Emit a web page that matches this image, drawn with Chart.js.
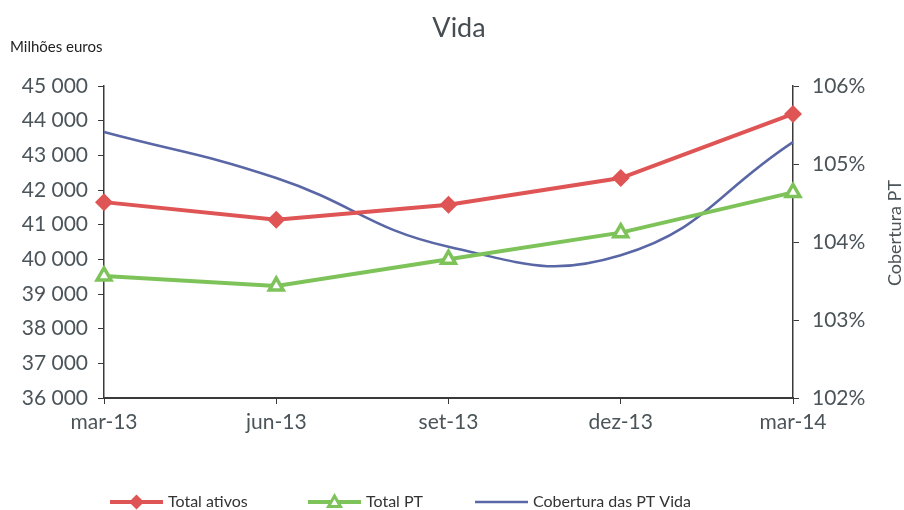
<!DOCTYPE html>
<html>
<head>
<meta charset="utf-8">
<script src="https://cdn.jsdelivr.net/npm/chart.js@4/dist/chart.umd.min.js"></script>
<style>
  html, body { margin: 0; padding: 0; background: #fff; }
  #wrap { width: 904px; height: 510px; }
</style>
</head>
<body>
<div id="wrap"><canvas id="vidaChart" width="904" height="510"></canvas></div>
<script>
const categories = ['mar-13', 'jun-13', 'set-13', 'dez-13', 'mar-14'];
const totalAtivos = [41650, 41140, 41575, 42345, 44195];
const totalPT = [39520, 39230, 40000, 40770, 41930];
const coberturaPT = [105.41, 104.82, 103.94, 103.83, 105.28];

const FONT = 'Lato, "Noto Sans", sans-serif';
const TICK_COLOR = '#4b5459';
const AXIS_COLOR = '#3a3a3a';
const RED = '#df5454';
const GREEN = '#7dc35a';
const BLUE = '#5a67a6';

function fmtThousands(v) {
    return String(v).replace(/\B(?=(\d{3})+(?!\d))/g, ' ');
}

// texts outside the chart area and the bottom legend
const extraText = {
    id: 'extraText',
    afterDraw(chart) {
        const ctx = chart.ctx;
        ctx.save();
        ctx.fillStyle = '#222';
        ctx.font = '15px ' + FONT;
        ctx.textBaseline = 'middle';
        ctx.textAlign = 'left';
        ctx.fillText('Milhões euros', 10, 47);

        ctx.fillStyle = TICK_COLOR;
        ctx.font = '18px ' + FONT;
        ctx.translate(895, 233);
        ctx.rotate(-Math.PI / 2);
        ctx.textAlign = 'center';
        ctx.fillText('Cobertura PT', 0, 0);
        ctx.restore();

        // legend
        const items = [
            { label: 'Total ativos', color: RED, x0: 110, x1: 163, w: 4, marker: 'diamond' },
            { label: 'Total PT', color: GREEN, x0: 308, x1: 361, w: 4, marker: 'triangle' },
            { label: 'Cobertura das PT Vida', color: BLUE, x0: 475, x1: 528, w: 2.5, marker: null }
        ];
        const y = 502;
        ctx.save();
        items.forEach(it => {
            ctx.strokeStyle = it.color;
            ctx.lineWidth = it.w;
            ctx.beginPath();
            ctx.moveTo(it.x0, y);
            ctx.lineTo(it.x1, y);
            ctx.stroke();
            const cx = (it.x0 + it.x1) / 2;
            if (it.marker === 'diamond') {
                ctx.fillStyle = it.color;
                ctx.beginPath();
                ctx.moveTo(cx, y - 7.5);
                ctx.lineTo(cx + 7.5, y);
                ctx.lineTo(cx, y + 7.5);
                ctx.lineTo(cx - 7.5, y);
                ctx.closePath();
                ctx.fill();
            } else if (it.marker === 'triangle') {
                ctx.fillStyle = '#fff';
                ctx.lineWidth = 3;
                ctx.beginPath();
                ctx.moveTo(cx, y - 6);
                ctx.lineTo(cx + 6, y + 4.5);
                ctx.lineTo(cx - 6, y + 4.5);
                ctx.closePath();
                ctx.fill();
                ctx.stroke();
            }
            ctx.fillStyle = '#333';
            ctx.font = '16px ' + FONT;
            ctx.textAlign = 'left';
            ctx.textBaseline = 'middle';
            ctx.fillText(it.label, it.x1 + 5, y);
        });
        ctx.restore();
    }
};

new Chart(document.getElementById('vidaChart').getContext('2d'), {
    type: 'line',
    data: {
        labels: categories,
        datasets: [
            {
                label: 'Total ativos',
                data: totalAtivos,
                yAxisID: 'y',
                borderColor: RED,
                backgroundColor: RED,
                borderWidth: 4,
                pointStyle: 'rectRot',
                pointRadius: 9,
                pointBorderWidth: 0,
                tension: 0,
                clip: false
            },
            {
                label: 'Total PT',
                data: totalPT,
                yAxisID: 'y',
                borderColor: GREEN,
                backgroundColor: '#fff',
                borderWidth: 4,
                pointStyle: 'triangle',
                pointRadius: 8,
                pointBorderWidth: 3.5,
                pointBorderColor: GREEN,
                pointBackgroundColor: '#fff',
                tension: 0,
                clip: false
            },
            {
                label: 'Cobertura das PT Vida',
                data: coberturaPT,
                yAxisID: 'y1',
                borderColor: BLUE,
                borderWidth: 2.5,
                pointRadius: 0,
                tension: 0.45,
                clip: false
            }
        ]
    },
    options: {
        responsive: false,
        animation: false,
        layout: { padding: { top: 86, bottom: 0, left: 0, right: 0 } },
        plugins: {
            legend: { display: false },
            tooltip: { enabled: false },
            title: { display: false }
        },
        scales: {
            x: {
                offset: false,
                grid: { drawOnChartArea: false, drawTicks: true, tickLength: 6, color: AXIS_COLOR, lineWidth: 1 },
                border: { color: AXIS_COLOR, width: 2 },
                ticks: { color: TICK_COLOR, font: { family: FONT, size: 21 }, padding: 6, maxRotation: 0 },
                afterFit(s) { s.height = 112; }
            },
            y: {
                position: 'left',
                min: 36000,
                max: 45000,
                grid: { drawOnChartArea: false, drawTicks: true, tickLength: 6, color: AXIS_COLOR },
                border: { color: AXIS_COLOR, width: 1.5 },
                ticks: {
                    stepSize: 1000,
                    color: TICK_COLOR,
                    font: { family: FONT, size: 21 },
                    padding: 10,
                    callback: v => fmtThousands(v)
                },
                afterFit(s) { s.width = 104; }
            },
            y1: {
                position: 'right',
                min: 102,
                max: 106,
                grid: { drawOnChartArea: false, drawTicks: true, tickLength: 6, color: AXIS_COLOR },
                border: { color: AXIS_COLOR, width: 1.5 },
                ticks: {
                    stepSize: 1,
                    color: TICK_COLOR,
                    font: { family: FONT, size: 21 },
                    padding: 13,
                    callback: v => v.toFixed(0) + '%'
                },
                afterFit(s) { s.width = 111; }
            }
        }
    },
    plugins: [extraText, {
        id: 'chartTitle',
        afterDraw(chart) {
            const ctx = chart.ctx;
            ctx.save();
            ctx.fillStyle = '#454d52';
            ctx.font = '27px ' + FONT;
            ctx.textAlign = 'center';
            ctx.textBaseline = 'middle';
            ctx.fillText('Vida', 459, 28);
            ctx.restore();
        }
    }]
});
</script>
</body>
</html>
